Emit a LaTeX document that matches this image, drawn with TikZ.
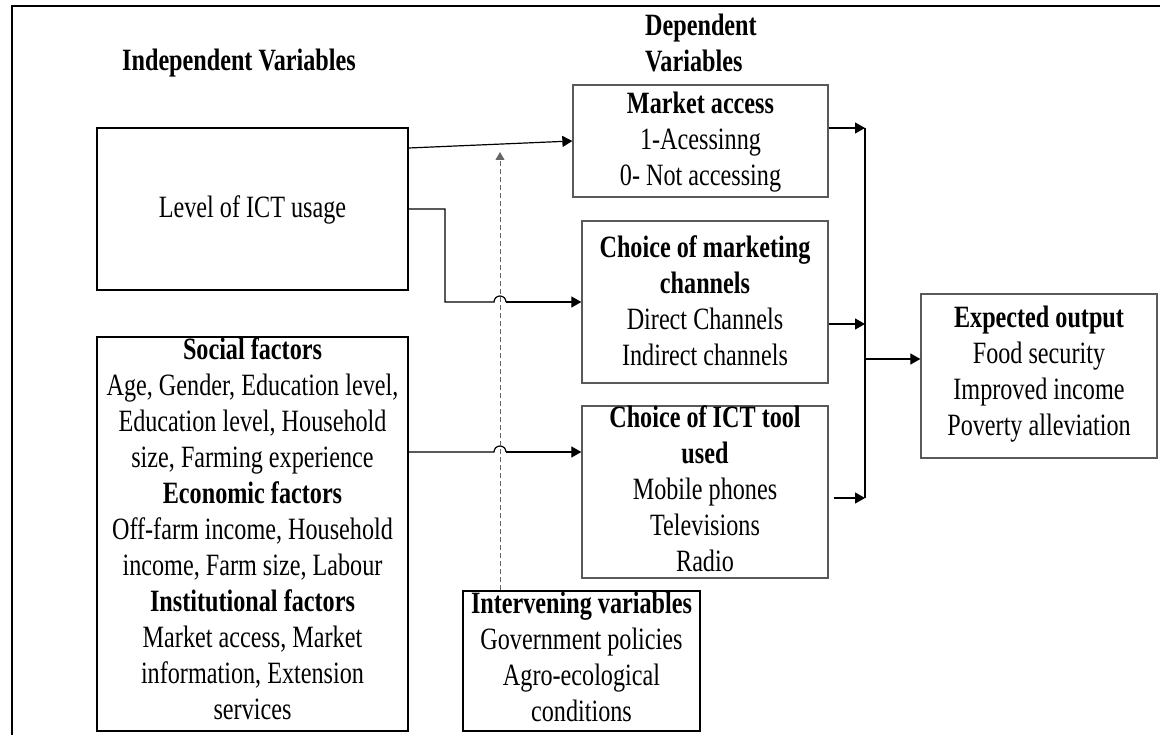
\documentclass[tikz,border=0pt]{standalone}
\usepackage{fontspec}
\setmainfont{Liberation Serif}[FakeStretch=0.78]
\usetikzlibrary{arrows.meta}
\newcommand\dgfont{\fontsize{31}{36}\selectfont}
\begin{document}
\begin{tikzpicture}[x=1pt,y=-1pt,
  lbox/.style={draw=black, line width=1.3pt, inner sep=0pt},
  rbox/.style={draw=black!65, line width=1.3pt, inner sep=0pt},
  txt/.style={align=center, inner sep=0pt, font=\dgfont},
  conn/.style={line width=1.2pt, draw=black},
  arr/.style={conn, -{Triangle[length=10pt,width=11pt]}},
  dashline/.style={line width=1pt, draw=black!60, dash pattern=on 5pt off 3pt,
    -{Triangle[length=8pt,width=9pt]}}]
\useasboundingbox (0,0) rectangle (1160,735);
% frame
\draw[line width=2.5pt] (12,735) -- (12,6) -- (1160,6);
% titles
\node[txt, font=\dgfont\bfseries] (indep) at (239,63) {\strut Independent Variables\strut};
\node[txt, align=left, anchor=west, font=\dgfont\bfseries] (dep) at (645,46.5) {\strut Dependent\\Variables\strut};
% boxes
\node[lbox, minimum width=311pt, minimum height=162pt] (level) at (252.5,209) {};
\node[lbox, minimum width=311pt, minimum height=394pt] (soc) at (252.5,534) {};
\node[rbox, minimum width=255pt, minimum height=112pt] (mkt) at (700.5,141) {};
\node[rbox, minimum width=246pt, minimum height=162pt] (chan) at (705,302) {};
\node[rbox, minimum width=246pt, minimum height=172pt] (ict) at (705,492) {};
\node[rbox, minimum width=236pt, minimum height=164pt] (out) at (1039,376) {};
\node[lbox, minimum width=237pt, minimum height=140pt] (interv) at (581.5,661) {};
% texts
\node[txt] (levelT) at (252.5,210) {\strut Level of ICT usage\strut};
\node[txt] (mktT) at (700.5,142) {\strut\textbf{Market access}\\1-Acessinng\\0- Not accessing\strut};
\node[txt] (chanT) at (705,304) {\strut\textbf{Choice of marketing}\\\textbf{channels}\\Direct Channels\\Indirect channels\strut};
\node[txt] (ictT) at (705,492) {\strut\textbf{Choice of ICT tool}\\\textbf{used}\\Mobile phones\\Televisions\\Radio\strut};
\node[txt] (outT) at (1039,374) {\strut\textbf{Expected output}\\Food security\\Improved income\\Poverty alleviation\strut};
\node[txt] (socT) at (252.5,532) {\strut\textbf{Social factors}\\Age, Gender, Education level,\\Education level, Household\\size, Farming experience\\\textbf{Economic factors}\\Off-farm income, Household\\income, Farm size, Labour\\\textbf{Institutional factors}\\Market access, Market\\information, Extension\\services\strut};
\node[txt] (intervT) at (581.5,660) {\strut\textbf{Intervening variables}\\Government policies\\Agro-ecological\\conditions\strut};
% helper coordinates
\coordinate (bendA) at (445,302);
\coordinate (dtip) at (500,152);
\coordinate (b1) at (865,128);
\coordinate (b2) at (865,324);
\coordinate (b3) at (865,498);
\coordinate (b4) at (865,359);
% connectors from independent variables
\draw[arr] (level.east |- 0,148) -- (mkt.west);
\draw[conn] (level.east) -| (bendA) -- (494,302) arc[start angle=180, end angle=360, radius=6] -- (506,302);
\draw[arr] (506,302) -- (chan.west);
\draw[conn] (soc.east |- 0,452) -- (494,452) arc[start angle=180, end angle=360, radius=6] -- (506,452);
\draw[arr] (506,452) -- (ict.west |- 0,452);
% intervening
\draw[dashline] (interv.north -| dtip) -- (dtip);
% to bus
\draw[arr] (mkt.east |- b1) -- (b1);
\draw[arr] (chan.east |- b2) -- (b2);
\draw[arr, shorten <=5pt] (ict.east |- b3) -- (b3);
\draw[conn] (b1) -- (b3);
\draw[arr] (b4) -- (out.west |- b4);
\end{tikzpicture}
\end{document}
